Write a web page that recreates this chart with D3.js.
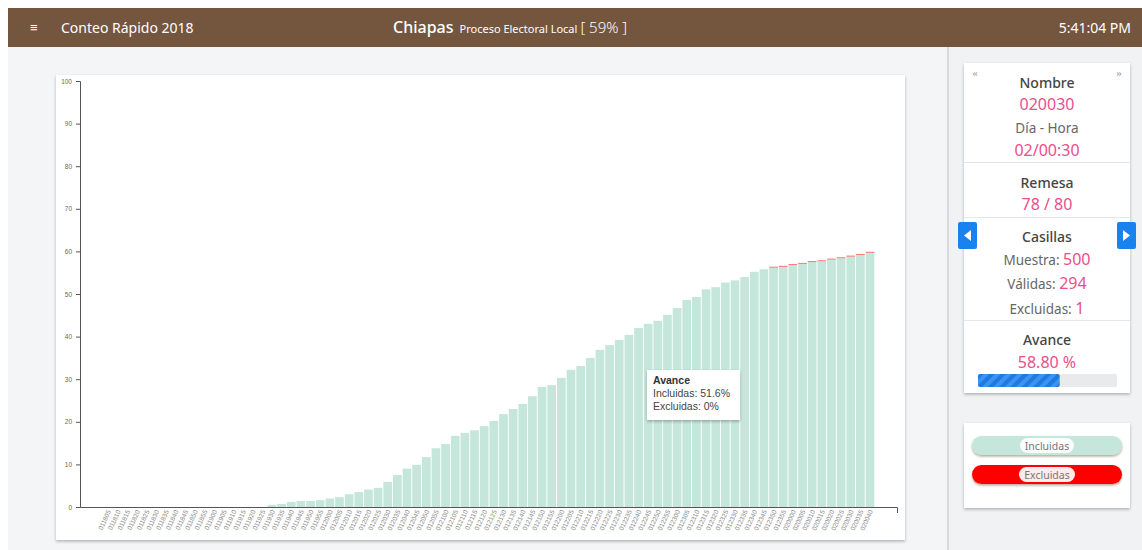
<!DOCTYPE html>
<html>
<head>
<meta charset="utf-8">
<script src="https://cdn.jsdelivr.net/npm/d3@7"></script>
<style>
  html, body { margin: 0; padding: 0; background: #ffffff; }
  svg { display: block; }
</style>
</head>
<body>
<svg id="root" width="1142" height="550"></svg>
<script>
// ---------------- DATA ----------------
const remesas = [
  "011805","011810","011815","011820","011825","011830","011835","011840","011845","011850",
  "011855","011900","011905","011910","011915","011920","011925","011930","011935","011940",
  "011945","011950","011955","012000","012005","012010","012015","012020","012025","012030",
  "012035","012040","012045","012050","012055","012100","012105","012110","012115","012120",
  "012125","012130","012135","012140","012145","012150","012155","012200","012205","012210",
  "012215","012220","012225","012230","012235","012240","012245","012250","012255","012300",
  "012305","012310","012315","012320","012325","012330","012335","012340","012345","012350",
  "012355","020000","020005","020010","020015","020020","020025","020030","020035","020040"
];
const avanceTotal = [
  0,0,0,0,0,0,0,0,0,0,
  0,0,0,0,0,0,0,0.5,0.7,1.2,
  1.4,1.4,1.6,2.0,2.3,3.0,3.5,4.1,4.5,5.9,
  7.5,9.0,9.9,11.7,13.8,14.8,16.7,17.4,18.0,19.0,
  20.2,21.8,23.0,24.2,26.0,28.2,28.6,30.3,32.2,33.1,
  35.0,36.9,38.0,39.2,40.4,42.0,43.0,43.7,45.1,46.7,
  48.6,49.3,51.1,51.6,52.7,53.2,54.0,55.2,55.8,56.4,
  56.6,57.0,57.3,57.7,57.9,58.3,58.6,59.0,59.4,59.9
];
const excluidas = avanceTotal.map((v, i) => i >= 69 ? 0.2 : 0);
const incluidas = avanceTotal.map((v, i) => +(v - excluidas[i]).toFixed(2));
const yTicks = [0,10,20,30,40,50,60,70,80,90,100];
const seriesNames = ["Incluidas", "Excluidas"];
const seriesColors = ["#c5e6da", "#ff2a2a"];

// ---------------- SETUP ----------------
const svg = d3.select("#root");
const defs = svg.append("defs");
const sh = defs.append("filter").attr("id","shadow").attr("x","-5%").attr("y","-5%").attr("width","110%").attr("height","115%");
sh.append("feDropShadow").attr("dx",0).attr("dy",1.5).attr("stdDeviation",1.8).attr("flood-color","#000").attr("flood-opacity",0.28);
const sh2 = defs.append("filter").attr("id","pillshadow").attr("x","-5%").attr("y","-20%").attr("width","110%").attr("height","160%");
sh2.append("feDropShadow").attr("dx",0).attr("dy",1.5).attr("stdDeviation",1.2).attr("flood-color","#5a3a1a").attr("flood-opacity",0.45);
const pat = defs.append("pattern").attr("id","stripes").attr("patternUnits","userSpaceOnUse")
  .attr("width",8).attr("height",8).attr("patternTransform","rotate(45)");
pat.append("rect").attr("width",8).attr("height",8).attr("fill","#1f7ae0");
pat.append("rect").attr("width",4).attr("height",8).attr("fill","#3d92f2");

const FONT = "'Noto Sans', 'Open Sans', sans-serif";

// page backgrounds
svg.append("rect").attr("x",0).attr("y",0).attr("width",1142).attr("height",550).attr("fill","#ffffff");
svg.append("rect").attr("x",8).attr("y",47).attr("width",1134).attr("height",503).attr("fill","#f4f5f7");
svg.append("rect").attr("x",947).attr("y",47).attr("width",195).attr("height",503).attr("fill","#f1f2f4");
svg.append("line").attr("x1",948).attr("x2",948).attr("y1",47).attr("y2",550).attr("stroke","#d9d9d9").attr("stroke-width",2);

// header
svg.append("rect").attr("x",8).attr("y",8).attr("width",1134).attr("height",39).attr("fill","#74563f");
svg.append("text").attr("x",30).attr("y",32).attr("fill","#fff").attr("font-family",FONT).attr("font-size",13).text("≡");
svg.append("text").attr("x",61).attr("y",33).attr("fill","#fff").attr("font-family",FONT).attr("font-size",14).text("Conteo Rápido 2018");
const ht = svg.append("text").attr("x",393).attr("y",33).attr("fill","#fff").attr("font-family",FONT);
ht.append("tspan").attr("font-size",16).attr("font-weight",500).text("Chiapas");
ht.append("tspan").attr("font-size",11).attr("dx",6).text("Proceso Electoral Local");
ht.append("tspan").attr("font-size",15).attr("dx",3).attr("font-weight",300).text("[ 59% ]");
svg.append("text").attr("x",1131).attr("y",33).attr("text-anchor","end").attr("fill","#fff").attr("font-family",FONT).attr("font-size",14).text("5:41:04 PM");

// chart card
svg.append("rect").attr("x",56).attr("y",75).attr("width",849).attr("height",465).attr("fill","#fff").attr("filter","url(#shadow)");

// ---------------- CHART ----------------
const x = d3.scaleBand().domain(remesas).range([80, 898]).paddingInner(0.1).paddingOuter(2.45);
const y = d3.scaleLinear().domain([0, 100]).range([507, 81]);

const stackData = remesas.map((r, i) => ({ remesa: r, Incluidas: incluidas[i], Excluidas: excluidas[i] }));
const stacked = d3.stack().keys(seriesNames)(stackData);

const g = svg.append("g");
g.selectAll("g.layer").data(stacked).join("g").attr("class","layer")
  .attr("fill", (d, i) => seriesColors[i])
  .attr("fill-opacity", (d, i) => i === 1 ? 0.75 : 1)
  .selectAll("rect").data(d => d.filter(p => p[1] - p[0] > 0)).join("rect")
  .attr("x", d => x(d.data.remesa))
  .attr("width", x.bandwidth())
  .attr("y", d => y(d[1]))
  .attr("height", d => y(d[0]) - y(d[1]));

const yAxis = g.append("g").attr("transform","translate(80,0)")
  .call(d3.axisLeft(y).tickValues(yTicks).tickSize(4).tickPadding(4));
yAxis.selectAll("text").attr("font-size",6.5).attr("fill","#666").attr("font-family","'Liberation Sans', Arial, sans-serif");
yAxis.selectAll("line,path").attr("stroke","#555");

const xAxis = g.append("g").attr("transform","translate(0,507)")
  .call(d3.axisBottom(x).tickSize(0).tickPadding(4));
xAxis.selectAll("text").attr("font-size",6.5).attr("fill","#888").attr("font-family","'Liberation Sans', Arial, sans-serif")
  .attr("text-anchor","end").attr("transform","rotate(-65)").attr("dx","-0.4em").attr("dy","0.1em");
xAxis.select("path").attr("stroke","#555").attr("d","M80.5,0.5H897.5V6");

// tooltip
const tip = svg.append("g").attr("transform","translate(647,370)");
tip.append("rect").attr("width",93).attr("height",50).attr("fill","#fff").attr("filter","url(#shadow)");
tip.append("text").attr("x",6).attr("y",14).attr("font-size",10.5).attr("font-weight","bold").attr("fill","#333").attr("font-family","'Liberation Sans', Arial, sans-serif").text("Avance");
tip.append("text").attr("x",6).attr("y",27).attr("font-size",10.5).attr("fill","#444").attr("font-family","'Liberation Sans', Arial, sans-serif").text("Incluidas: " + incluidas[63] + "%");
tip.append("text").attr("x",6).attr("y",40).attr("font-size",10.5).attr("fill","#444").attr("font-family","'Liberation Sans', Arial, sans-serif").text("Excluidas: " + excluidas[63] + "%");

// ---------------- RIGHT PANEL ----------------
const PINK = "#ea4f8b";
svg.append("rect").attr("x",964).attr("y",63).attr("width",166).attr("height",330).attr("fill","#fff").attr("filter","url(#shadow)");
const cx = 1047;
function t(yy, txt, size, color, weight) {
  return svg.append("text").attr("x",cx).attr("y",yy).attr("text-anchor","middle").attr("font-family",FONT)
    .attr("font-size",size).attr("fill",color).attr("font-weight",weight || 400).text(txt);
}
svg.append("text").attr("x",975).attr("y",76).attr("font-size",11).attr("fill","#999").attr("text-anchor","middle").text("«");
svg.append("text").attr("x",1119).attr("y",76).attr("font-size",11).attr("fill","#999").attr("text-anchor","middle").text("»");
t(88, "Nombre", 14, "#444", 500);
t(110, "020030", 16, PINK);
t(133, "Día - Hora", 13.5, "#666");
t(156, "02/00:30", 16, PINK);
svg.append("line").attr("x1",964).attr("x2",1130).attr("y1",162.5).attr("y2",162.5).attr("stroke","#e6e6e6");
t(188, "Remesa", 14, "#444", 500);
t(210, "78 / 80", 16, PINK);
svg.append("line").attr("x1",964).attr("x2",1130).attr("y1",217.5).attr("y2",217.5).attr("stroke","#e6e6e6");
t(242, "Casillas", 14, "#444", 500);
function kv(yy, k, v) {
  const tx = svg.append("text").attr("x",cx).attr("y",yy).attr("text-anchor","middle").attr("font-family",FONT);
  tx.append("tspan").attr("font-size",13.5).attr("fill","#666").text(k);
  tx.append("tspan").attr("font-size",16).attr("fill",PINK).text(v);
}
kv(265, "Muestra: ", "500");
kv(289, "Válidas: ", "294");
kv(314, "Excluidas: ", "1");
svg.append("line").attr("x1",964).attr("x2",1130).attr("y1",320.5).attr("y2",320.5).attr("stroke","#e6e6e6");
t(345, "Avance", 14, "#444", 500);
t(368, "58.80 %", 16, PINK);
svg.append("rect").attr("x",978).attr("y",374).attr("width",139).attr("height",13).attr("rx",2).attr("fill","#e9eaec");
const prog = d3.scaleLinear().domain([0,100]).range([0,139]);
svg.append("rect").attr("x",978).attr("y",374).attr("width",prog(58.80)).attr("height",13).attr("rx",2).attr("fill","url(#stripes)");

// nav buttons
[[958,"M964,230 L971,235.5 L964,241 Z"],[1117,"M1122,230 L1129,235.5 L1122,241 Z"]].forEach(([bx]) => {
  svg.append("rect").attr("x",bx).attr("y",222).attr("width",19).attr("height",27).attr("rx",2).attr("fill","#1a82ee");
});
svg.append("path").attr("d","M971,230 L964,235.5 L971,241 Z").attr("fill","#fff");
svg.append("path").attr("d","M1123,230 L1130,235.5 L1123,241 Z").attr("fill","#fff");

// legend card
svg.append("rect").attr("x",964).attr("y",423).attr("width",166).attr("height",85).attr("fill","#fff").attr("filter","url(#shadow)");
seriesNames.forEach((name, i) => {
  const py = 436 + i * 29;
  svg.append("rect").attr("x",972).attr("y",py).attr("width",150).attr("height",19).attr("rx",9.5)
    .attr("fill", i === 1 ? "#ff0000" : seriesColors[i]).attr("filter","url(#pillshadow)");
  const lw = i === 0 ? 54 : 56;
  svg.append("rect").attr("x",cx - lw/2).attr("y",py + 2).attr("width",lw).attr("height",15).attr("rx",7.5).attr("fill","#fff").attr("fill-opacity",0.92);
  svg.append("text").attr("x",cx).attr("y",py + 13.5).attr("text-anchor","middle").attr("font-family",FONT)
    .attr("font-size",10.5).attr("fill","#777").text(name);
});
</script>
</body>
</html>
